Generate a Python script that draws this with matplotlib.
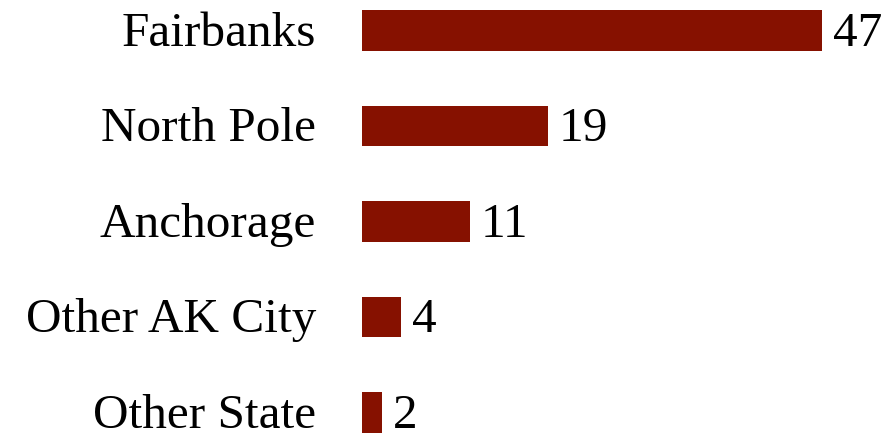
import matplotlib
matplotlib.use("Agg")
import matplotlib.pyplot as plt
from matplotlib.transforms import ScaledTranslation

# 居住地ごとの人数
places = ["Fairbanks", "North Pole", "Anchorage", "Other AK City", "Other State"]
counts = [47, 19, 11, 4, 2]

bar_color = "#861100"

fig = plt.figure(figsize=(8.92, 4.39), dpi=100)
ax = fig.add_axes([362 / 892, 0, 1 - 362 / 892, 1])

pos = list(range(len(places)))
ax.barh(pos, counts, height=0.42, color=bar_color)

# 0..47 -> 362..822 px
ax.set_xlim(0, 47 * (892 - 362) / 460)
ax.set_ylim(4.267, -0.33)

ax.set_yticks(pos)
ax.set_yticklabels(places, fontsize=35.5, family="Liberation Serif")
ax.tick_params(axis="y", length=0, pad=33)
ax.set_xticks([])
for s in ax.spines.values():
    s.set_visible(False)

# ラベルを少し上へ
shift = ScaledTranslation(0, 3 / 100, fig.dpi_scale_trans)
for lab in ax.get_yticklabels():
    lab.set_transform(lab.get_transform() + shift)

# 棒の右側に数値
for p, c in zip(pos, counts):
    ax.annotate(str(c), (c, p), xytext=(8, 2), textcoords="offset points",
                va="center_baseline", ha="left", fontsize=35.5, family="Liberation Serif")

fig.savefig("out.png", dpi=100)
